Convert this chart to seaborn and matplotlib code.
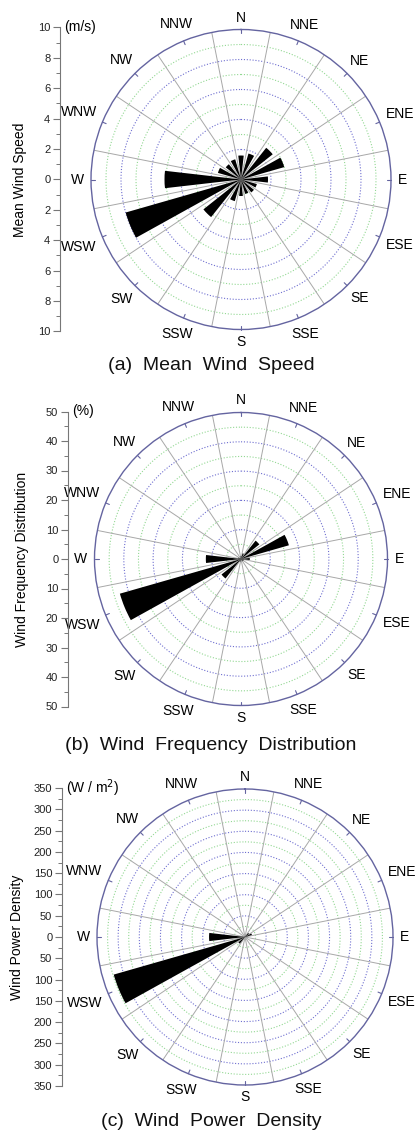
import numpy as np
import pandas as pd
import matplotlib
matplotlib.use("Agg")
import matplotlib.pyplot as plt
import seaborn as sns

# ---------------- data ----------------
directions = ['N', 'NNE', 'NE', 'ENE', 'E', 'ESE', 'SE', 'SSE',
              'S', 'SSW', 'SW', 'WSW', 'W', 'WNW', 'NW', 'NNW']
mean_speed = [1.6, 1.8, 2.7, 3.0, 1.8, 1.1, 1.1, 1.0,
              1.1, 1.5, 3.2, 8.0, 5.1, 1.6, 1.3, 1.4]
frequency = [1.0, 2.0, 8.0, 17.0, 3.0, 1.0, 1.0, 0.5,
             0.5, 1.0, 8.5, 43.0, 12.0, 1.0, 0.5, 0.5]
power_density = [2.5, 3.6, 12.0, 17.0, 3.6, 0.8, 0.8, 0.6,
                 0.8, 2.1, 20.0, 323.0, 85.0, 2.5, 1.3, 1.7]

panel_titles = ['(a)  Mean  Wind  Speed',
                '(b)  Wind  Frequency  Distribution',
                '(c)  Wind  Power  Density']
y_labels = ['Mean Wind Speed', 'Wind Frequency Distribution', 'Wind Power Density']
units = ['(m/s)', '(%)', '(W / m$^2$)']
r_max = [10, 50, 350]
major_step = [2, 10, 50]
ring_step = [1, 5, 25]

# ---------------- style ----------------
sns.set_theme(style="white")
plt.rcParams['font.family'] = ['Liberation Sans', 'DejaVu Sans']

W, H = 415, 1141
DPI = 100
fig = plt.figure(figsize=(W / DPI, H / DPI), dpi=DPI)
fig.patch.set_facecolor('white')

# layout in pixels: cx, cy, R, axis_x, axis_half, ylabel_x, caption_y
layout = [
    (241, 179.5, 150, 60, 152, 20, 365),
    (241, 559.0, 146.5, 68, 147.5, 22, 745),
    (245, 937.0, 148, 62, 149, 17, 1122),
]

ring_blue = '#6f6fd0'
ring_green = '#93d893'
outer_col = '#6464a0'
spoke_col = '#a8a8a8'

char_w = {'N': 0.722, 'E': 0.667, 'S': 0.667, 'W': 0.944}
font_px = 10 * DPI / 72.0

datasets = [mean_speed, frequency, power_density]

for i, vals in enumerate(datasets):
    cx, cy, R, axx, half, ylx, capy = layout[i]
    rm = r_max[i]

    ax = fig.add_axes([(cx - R) / W, 1 - (cy + R) / H, 2 * R / W, 2 * R / H],
                      projection='polar')
    ax.set_theta_zero_location('N')
    ax.set_theta_direction(-1)
    ax.set_facecolor('white')

    theta = np.deg2rad(np.arange(len(directions)) * 22.5)
    df = pd.DataFrame({'theta': theta, 'value': vals, 'dir': directions})

    # rings
    tt = np.linspace(0, 2 * np.pi, 721)
    k = 1
    r = ring_step[i]
    while r < rm - 1e-9:
        is_major = abs((r / major_step[i]) - round(r / major_step[i])) < 1e-9
        ax.plot(tt, np.full_like(tt, r), linestyle=(0, (1, 1.6)),
                color=ring_blue if is_major else ring_green, lw=0.8, zorder=1)
        k += 1
        r = ring_step[i] * k

    # spokes at sector boundaries
    for b in np.deg2rad(np.arange(16) * 22.5 + 11.25):
        ax.plot([b, b], [0, rm], color=spoke_col, lw=0.7, zorder=1)

    # bars
    sns.barplot(data=df, x='theta', y='value', native_scale=True, orient='x',
                color='black', saturation=1, width=0.58, errorbar=None,
                linewidth=0, ax=ax, zorder=3)
    ax.set_xlabel('')
    ax.set_ylabel('')
    ax.grid(False)
    ax.set_xticks([])
    ax.set_yticks([])
    ax.set_ylim(0, rm)
    ax.spines['polar'].set_color(outer_col)
    ax.spines['polar'].set_linewidth(1.0)

    # small inward ticks at label directions
    for th in theta:
        ax.plot([th, th], [rm * (1 - 4.0 / R), rm], color=outer_col, lw=0.8,
                zorder=2, clip_on=False)

    # direction labels
    for th, lab in zip(theta, directions):
        w = sum(char_w[c] for c in lab) * font_px
        h = 0.72 * font_px
        ext = abs(np.sin(th)) * w / 2 + abs(np.cos(th)) * h / 2
        d = R + 7 + ext
        ax.text(th, d / R * rm, lab, ha='center', va='center', fontsize=10,
                color='black', clip_on=False)

    # left linear axis
    lax = fig.add_axes([axx / W, 1 - (cy + half) / H, 0.0005, 2 * half / H])
    lax.set_ylim(-rm, rm)
    lax.set_xlim(0, 1)
    for s in ['top', 'right', 'bottom']:
        lax.spines[s].set_visible(False)
    lax.spines['left'].set_color('#777777')
    lax.spines['left'].set_linewidth(0.8)
    lax.set_xticks([])
    majors = np.arange(-rm, rm + major_step[i] / 2, major_step[i])
    lax.set_yticks(majors)
    lax.set_yticklabels([str(int(abs(v))) for v in majors[::-1]][::-1])
    lax.set_yticks(np.arange(-rm, rm + major_step[i] / 4, major_step[i] / 2), minor=True)
    lax.tick_params(axis='y', which='major', direction='out', length=5, width=0.8,
                    color='#777777', labelsize=8, labelcolor='#222222', pad=2, left=True)
    lax.tick_params(axis='y', which='minor', direction='out', length=3, width=0.7,
                    color='#777777', left=True)
    lax.invert_yaxis()
    lax.patch.set_visible(False)

    # unit label
    fig.text((axx + 4) / W, 1 - (cy - half) / H, units[i], ha='left', va='center',
             fontsize=10, color='black')
    # y label
    fig.text(ylx / W, 1 - cy / H, y_labels[i], rotation=90, ha='center', va='center',
             fontsize=10, color='black')
    # caption
    fig.text(211 / W, 1 - capy / H, panel_titles[i], ha='center', va='center',
             fontsize=14, color='#111111')

fig.savefig('out.png', dpi=DPI, facecolor='white')
